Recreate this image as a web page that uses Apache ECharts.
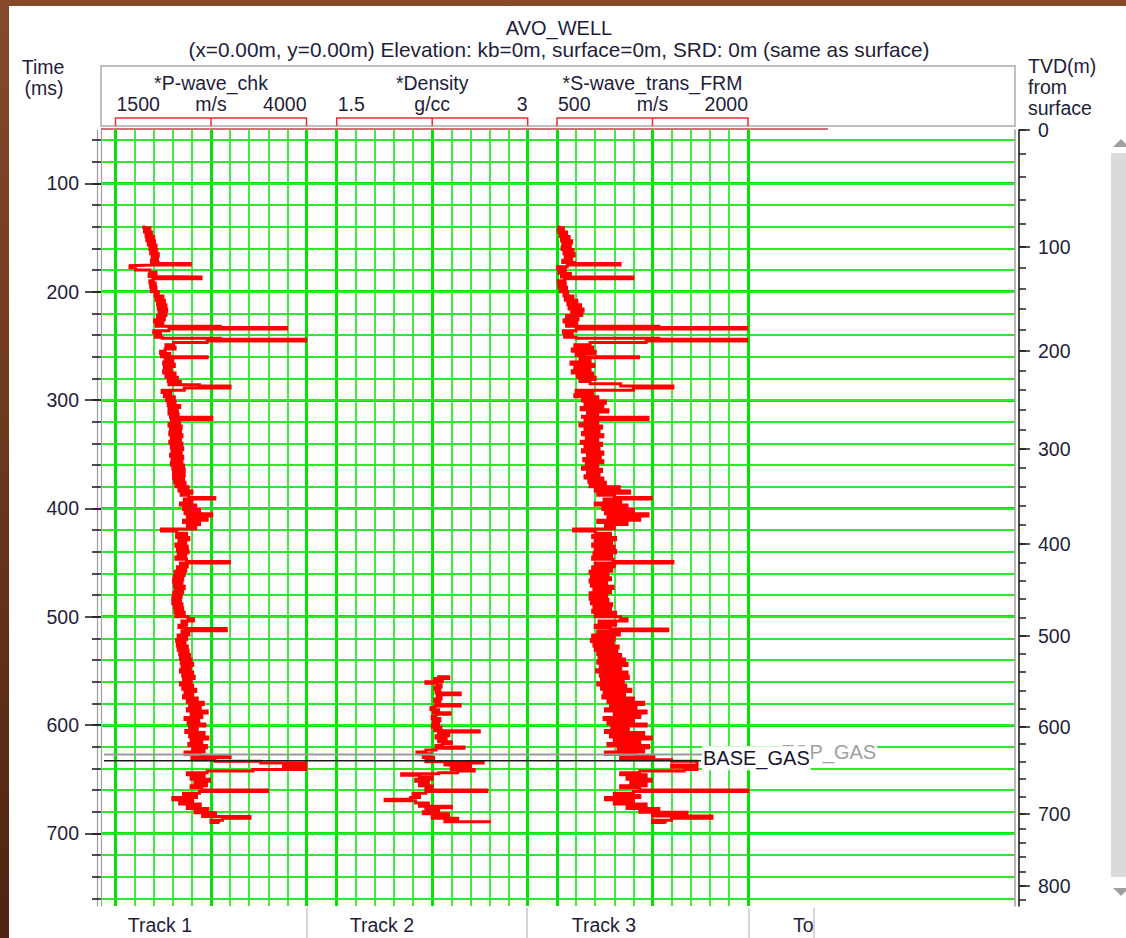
<!DOCTYPE html>
<html><head><meta charset="utf-8">
<script src="https://cdn.jsdelivr.net/npm/echarts@6/dist/echarts.min.js"></script>
<style>html,body{margin:0;padding:0;background:#fff;}#c{width:1126px;height:938px;}</style>
</head><body><div id="c"></div>
<script>
// ---------------- data ----------------
const timeMajorTicks = [100,200,300,400,500,600,700];
const timeMinorTicks = [60,80,100,120,140,160,180,200,220,240,260,280,300,320,340,360,380,400,420,440,460,480,500,520,540,560,580,600,620,640,660,680,700,720,740,760];
const tvdDepths = [0,100,200,300,400,500,600,700,800,820];
const tvdTimes  = [50.8,158.5,254.5,345.3,433.0,517.6,601.6,682.2,748.4,761.6];
const trackNames = ['Track 1','Track 2','Track 3'];
const curveNames = ['*P-wave_chk','*Density','*S-wave_trans_FRM'];
const curveUnits = ['m/s','g/cc','m/s'];
const scaleMin = [1500,1.5,500];
const scaleMax = [4000,3,2000];
const scaleMinLabels = ['1500','1.5','500'];
const scaleMaxLabels = ['4000','3','2000'];
const topNames = ['TOP_GAS','BASE_GAS'];
const topTimes = [627.3,633.0];

// [time ms, value]
const pWave = [[139,1870],[141,1950],[143,1880],[145,1970],[147,1900],[149,2000],[151,1910],[153,2010],[155,1930],[157,2030],[159,1950],[161,2040],[163,1960],[165,2060],[167,1980],[169,2050],[171,1970],[173,2060],[174,2480],[175.5,2000],[176,1690],[178,1760],[180,1950],[182,2030],[184,1940],[186,2040],[186.5,2620],[188,1990],[190,1950],[192,2020],[194,1960],[196,2030],[198,1970],[200,2060],[202,2020],[204,2120],[206,2030],[208,2140],[210,2050],[212,2160],[214,2060],[216,2170],[218,2070],[220,2160],[222,2050],[224,2140],[226,2010],[228,2120],[230,2030],[232,2870],[233,3740],[234.5,2200],[236,2000],[238,2090],[240,2020],[242,2110],[243,2870],[244,3990],[245.5,2700],[247,2260],[249,2160],[251,2280],[253,2150],[255,2090],[257,2210],[259,2100],[260,2700],[261,2150],[263,2250],[265,2130],[267,2270],[269,2140],[271,2230],[273,2130],[275,2280],[277,2160],[279,2310],[281,2190],[283,2350],[285,2200],[286,2600],[287,3000],[289,2400],[291,2110],[293,2220],[295,2140],[297,2270],[299,2170],[301,2280],[303,2190],[305,2340],[307,2200],[309,2310],[311,2200],[313,2320],[315,2220],[316,2760],[318,2230],[320,2340],[322,2200],[324,2360],[326,2220],[328,2350],[330,2210],[332,2370],[334,2230],[336,2350],[338,2210],[340,2370],[342,2230],[344,2380],[346,2240],[348,2360],[350,2220],[352,2380],[354,2240],[356,2370],[358,2230],[360,2390],[362,2250],[364,2400],[366,2260],[368,2400],[370,2260],[372,2390],[374,2270],[376,2410],[378,2290],[380,2450],[382,2330],[384,2500],[386,2360],[388,2460],[390,2800],[391.5,2400],[393,2500],[395,2350],[397,2550],[399,2390],[401,2600],[403,2410],[405,2760],[407,2440],[409,2700],[411,2390],[413,2600],[415,2440],[417,2550],[419,2100],[421,2300],[423,2430],[425,2300],[427,2460],[429,2330],[431,2420],[433,2290],[435,2440],[437,2310],[439,2450],[441,2320],[443,2420],[445,2290],[447,2430],[449,2990],[450.5,2350],[452,2440],[454,2310],[456,2420],[458,2280],[460,2400],[462,2270],[464,2380],[466,2260],[468,2370],[470,2270],[472,2400],[474,2280],[476,2380],[478,2260],[480,2360],[482,2250],[484,2350],[486,2250],[488,2370],[490,2270],[492,2380],[494,2280],[496,2400],[498,2290],[500,2450],[502,2520],[504,2370],[506,2430],[508,2330],[510,2410],[511,2950],[513,2370],[515,2460],[517,2320],[519,2430],[521,2300],[523,2410],[525,2310],[527,2440],[529,2320],[531,2450],[533,2340],[535,2470],[537,2350],[539,2490],[541,2360],[543,2510],[545,2370],[547,2480],[549,2350],[551,2510],[553,2380],[555,2530],[557,2390],[559,2490],[561,2350],[563,2510],[565,2380],[567,2550],[569,2410],[571,2510],[573,2390],[575,2570],[577,2440],[579,2650],[581,2470],[583,2610],[585,2440],[587,2700],[589,2490],[591,2630],[593,2410],[595,2590],[597,2450],[599,2670],[601,2470],[603,2570],[605,2420],[607,2660],[609,2470],[611,2710],[613,2490],[615,2630],[617,2460],[619,2690],[621,2510],[623,2660],[625,2410],[627,2610],[629,3000],[630,2500],[632,2800],[633.5,3400],[635,3990],[637,3700],[639,3990],[641,3300],[642.5,2700],[644,2440],[646,2660],[648,2490],[650,2730],[652,2540],[654,2690],[656,2490],[658,2630],[660,3490],[661.5,2600],[663,2390],[665,2560],[667,2250],[669,2510],[671,2340],[673,2610],[675,2440],[677,2710],[679,2540],[681,2810],[683,2640],[684.5,3260],[686,2900],[688,2750],[690,2850],[691,2850]];

const density = [[554,2.30],[555.5,2.38],[557,2.27],[559,2.33],[560,2.20],[561.5,2.29],[563,2.32],[565,2.27],[567,2.31],[569,2.28],[570.5,2.47],[572,2.29],[574,2.32],[576,2.27],[578,2.31],[580,2.28],[581,2.47],[582.5,2.27],[584,2.24],[586,2.30],[588,2.26],[588.7,2.39],[590,2.28],[592,2.25],[594,2.31],[596,2.26],[598,2.30],[600,2.25],[602,2.32],[604,2.27],[605.3,2.62],[606.5,2.30],[608,2.38],[610,2.28],[612,2.36],[614,2.30],[615.5,2.40],[617,2.33],[619,2.28],[620.4,2.50],[621.5,2.28],[623,2.20],[625,2.13],[626.5,2.24],[628,2.18],[630,2.26],[632,2.20],[633.9,2.65],[635,2.35],[637,2.55],[639,2.40],[641,2.58],[642.5,2.45],[644,2.30],[645,2.01],[646.5,2.15],[648,2.25],[650,2.12],[652,2.22],[654,2.15],[656,2.25],[658,2.20],[660,2.68],[661.5,2.20],[663,2.10],[665,2.15],[667,2.08],[668.6,1.88],[670,2.12],[672,2.22],[674,2.15],[675,2.40],[676.5,2.20],[678,2.30],[680,2.18],[682,2.38],[684,2.25],[686,2.45],[688,2.35],[689.3,2.70],[690.7,2.70]];

const sWave = [[139,515],[141,550],[143,510],[145,575],[147,525],[149,595],[151,535],[153,615],[155,545],[157,605],[159,540],[161,625],[163,555],[165,635],[167,565],[169,615],[171,545],[173,640],[174,995],[175.5,580],[177,505],[179,565],[181,515],[183,605],[185,535],[186.5,1097],[188,560],[190,510],[192,565],[194,515],[196,575],[198,525],[200,585],[202,555],[204,625],[206,565],[208,655],[210,585],[212,685],[214,595],[216,705],[218,615],[220,695],[222,575],[224,665],[226,555],[228,655],[230,575],[232,1300],[233,1990],[234.5,650],[236,550],[238,620],[240,560],[242,650],[243,1300],[244,1990],[245.5,1200],[247,760],[249,640],[251,780],[253,620],[255,800],[257,650],[259,720],[260,1140],[261,680],[263,760],[265,610],[267,790],[269,640],[271,760],[273,620],[275,780],[277,660],[279,800],[281,680],[283,760],[285,1000],[287,1410],[289,1100],[291,650],[293,780],[295,640],[297,820],[299,700],[301,880],[303,720],[305,860],[307,690],[309,900],[311,740],[313,820],[315,700],[316,1215],[318,720],[320,820],[322,680],[324,850],[326,720],[328,830],[330,700],[332,860],[334,730],[336,820],[338,690],[340,850],[342,720],[344,830],[346,700],[348,860],[350,740],[352,840],[354,710],[356,860],[358,730],[360,820],[362,700],[364,850],[366,740],[368,830],[370,720],[372,860],[374,750],[376,880],[378,760],[380,990],[382,800],[384,1070],[386,820],[388,950],[390,1240],[391.5,870],[393,1000],[395,800],[397,1050],[399,860],[401,1100],[403,880],[405,1215],[407,900],[409,1150],[411,820],[413,1050],[415,880],[417,950],[419,630],[421,800],[423,920],[425,780],[427,960],[429,800],[431,930],[433,780],[435,950],[437,800],[439,960],[441,790],[443,930],[445,780],[447,940],[449,1410],[450.5,800],[452,950],[454,780],[456,930],[458,760],[460,900],[462,770],[464,920],[466,760],[468,890],[470,770],[472,940],[474,790],[476,920],[478,760],[480,890],[482,760],[484,900],[486,770],[488,930],[490,790],[492,920],[494,780],[496,960],[498,800],[500,1000],[502,1050],[504,830],[506,960],[508,800],[510,920],[511.5,1370],[513,820],[515,990],[517,780],[519,950],[521,770],[523,940],[525,790],[527,980],[529,800],[531,970],[533,820],[535,1000],[537,830],[539,1030],[541,820],[543,1050],[545,840],[547,1000],[549,810],[551,1050],[553,840],[555,1060],[557,850],[559,1020],[561,820],[563,1040],[565,850],[567,1080],[569,870],[571,1030],[573,860],[575,1100],[577,900],[579,1180],[581,920],[583,1120],[585,880],[587,1200],[589,950],[591,1150],[593,870],[595,1100],[597,900],[599,1200],[601,930],[603,1060],[605,880],[607,1180],[609,920],[611,1240],[613,950],[615,1150],[617,900],[619,1220],[621,980],[623,1180],[625,880],[627,1120],[629,1260],[630,1000],[632,1400],[633.5,1600],[635,1600],[637,1400],[639,1600],[641,1500],[642.5,1150],[644,1000],[646,1200],[648,1050],[650,1240],[652,1080],[654,1200],[656,1000],[658,1150],[660,2000],[661.5,1100],[663,950],[665,1150],[667,880],[669,1100],[671,950],[673,1200],[675,1050],[677,1300],[679,1150],[680.5,1520],[682,1250],[684,1717],[686,1400],[688,1250],[690,1350],[691,1350]];

// ---------------- layout / style ----------------
const FONT = '"Liberation Sans", Arial, sans-serif';
const FS = 19.5;
const TXT = '#1e1e3a';
const T_MIN = 50.8, T_MAX = 767.1;
const GRID_TOP = 130, GRID_H = 776;
const MAIN_LEFT = 101, MAIN_W = 914;
const trackLeft = [115.5, 336.7, 557];
const trackW = 191;
const GREEN_MAJ = '#00e600', GREEN_MIN = '#2ee82e';

function interp(xs, ys, x) {
  for (let i = 0; i < xs.length - 1; i++) {
    if (x >= xs[i] && x <= xs[i + 1]) return ys[i] + (ys[i + 1] - ys[i]) * (x - xs[i]) / (xs[i + 1] - xs[i]);
  }
  return ys[ys.length - 1];
}
const tvdMinorDepths = []; for (let d = 0; d <= 820; d += 20) tvdMinorDepths.push(d);
const tvdMinorTimes = tvdMinorDepths.map(d => interp(tvdDepths, tvdTimes, d));
const tvdMajorDepths = tvdDepths.filter(d => d % 100 === 0);
const tvdMajorTimes = tvdMajorDepths.map(d => interp(tvdDepths, tvdTimes, d));

function stepLine(arr) {
  const out = [];
  for (let i = 0; i < arr.length; i++) {
    const t = arr[i][0], v = arr[i][1];
    const tn = i + 1 < arr.length ? arr[i + 1][0] : t;
    out.push([v, t]); out.push([v, tn]);
  }
  return out;
}

const grids = [{left: MAIN_LEFT, top: GRID_TOP, width: MAIN_W, height: GRID_H}];
trackLeft.forEach(l => grids.push({left: l, top: GRID_TOP, width: trackW, height: GRID_H}));

const xAxes = [{gridIndex: 0, type: 'value', min: 0, max: 1, show: false}];
const yAxes = [];
const hidden = {axisLine: {show: false, onZero: false}, axisTick: {show: false}, axisLabel: {show: false}};
yAxes.push({gridIndex: 0, type: 'value', position: 'left', min: T_MIN, max: T_MAX, inverse: true,
  axisLine: {show: true, onZero: false, lineStyle: {color: '#a0a0a0', width: 1.2}},
  axisTick: {show: true, customValues: timeMajorTicks, length: 16, lineStyle: {color: '#202020', width: 1.6}},
  axisLabel: {show: true, customValues: timeMajorTicks, margin: 22, color: TXT, fontSize: FS, fontFamily: FONT, lineHeight: 16},
  splitLine: {show: true, lineStyle: {color: GREEN_MAJ, width: 3}}});
yAxes.push({gridIndex: 0, type: 'value', position: 'left', min: T_MIN, max: T_MAX, inverse: true,
  axisLine: {show: false, onZero: false},
  axisTick: {show: true, customValues: timeMinorTicks, length: 9, lineStyle: {color: '#202020', width: 1.6}},
  axisLabel: {show: false},
  splitLine: {show: true, lineStyle: {color: GREEN_MIN, width: 1.8}}});
yAxes.push({gridIndex: 0, type: 'value', position: 'left', offset: 4, min: T_MIN, max: T_MAX, inverse: true,
  axisLine: {show: true, onZero: false, lineStyle: {color: '#a0a0a0', width: 1.2}},
  axisTick: {show: false}, axisLabel: {show: false}, splitLine: {show: false}});
yAxes.push({gridIndex: 0, type: 'value', position: 'right', offset: 0, min: T_MIN, max: T_MAX, inverse: true,
  axisLine: {show: true, onZero: false, lineStyle: {color: '#a0a0a0', width: 1.5}},
  axisTick: {show: false}, axisLabel: {show: false}, splitLine: {show: false}});
yAxes.push({gridIndex: 0, type: 'value', position: 'right', offset: 4, min: T_MIN, max: T_MAX, inverse: true,
  axisLine: {show: true, onZero: false, lineStyle: {color: '#202020', width: 1.6}},
  axisTick: {show: true, customValues: tvdMinorTimes, length: 7, lineStyle: {color: '#202020', width: 1.5}},
  axisLabel: {show: false}, splitLine: {show: false}});
yAxes.push({gridIndex: 0, type: 'value', position: 'right', offset: 4, min: T_MIN, max: T_MAX, inverse: true,
  axisLine: {show: false, onZero: false},
  axisTick: {show: true, customValues: tvdMajorTimes, length: 11, lineStyle: {color: '#202020', width: 1.5}},
  axisLabel: {show: true, customValues: tvdMajorTimes, margin: 19, color: TXT, fontSize: FS, fontFamily: FONT, lineHeight: 16,
    formatter: v => { let b = 0, bd = 1e9; tvdMajorTimes.forEach((t, i) => { const d = Math.abs(t - v); if (d < bd) { bd = d; b = i; } }); return String(tvdMajorDepths[b]); }},
  splitLine: {show: false}});

const curves = [pWave, density, sWave];
const series = [];
trackLeft.forEach((l, i) => {
  const mn = scaleMin[i], mx = scaleMax[i];
  const minorVals = []; for (let k = 0; k <= 10; k++) minorVals.push(mn + (mx - mn) * k / 10);
  const majorVals = [mn, (mn + mx) / 2, mx];
  xAxes.push({gridIndex: i + 1, type: 'value', min: mn, max: mx, axisLine: {show: false, onZero: false},
    axisTick: {show: false, customValues: minorVals}, axisLabel: {show: false},
    splitLine: {show: true, lineStyle: {color: GREEN_MIN, width: 1.8}}});
  xAxes.push({gridIndex: i + 1, type: 'value', min: mn, max: mx, axisLine: {show: false, onZero: false},
    axisTick: {show: false, customValues: majorVals}, axisLabel: {show: false},
    splitLine: {show: true, lineStyle: {color: GREEN_MAJ, width: 3}}});
  yAxes.push(Object.assign({gridIndex: i + 1, type: 'value', min: T_MIN, max: T_MAX, inverse: true, splitLine: {show: false}}, hidden));
  series.push({type: 'line', name: curveNames[i], xAxisIndex: 2 + 2 * i, yAxisIndex: 6 + i,
    data: stepLine(curves[i]), symbol: 'none', showSymbol: false, animation: false, z: 3,
    lineStyle: {color: '#ff0000', width: 3, cap: 'butt', join: 'miter'}});
});

series.push({type: 'custom', xAxisIndex: 0, yAxisIndex: 0, z: 6, animation: false, clip: false,
  data: topTimes.map((t, i) => [i, t]),
  renderItem: function (params, api) {
    const i = api.value(0);
    const y = api.coord([0, api.value(1)])[1];
    const cs = params.coordSys;
    const isBase = topNames[i] === 'BASE_GAS';
    const lx = isBase ? cs.x + 600 : cs.x + 679;
    return {type: 'group', children: [
      {type: 'line', shape: {x1: cs.x + 3, y1: y, x2: lx, y2: y},
        style: {stroke: isBase ? '#1a1a1a' : '#9a9a9a', lineWidth: isBase ? 1.6 : 2}},
      {type: 'text', style: {text: topNames[i], x: lx + 1, y: y - 2.5, align: 'left', verticalAlign: 'middle',
        fill: isBase ? '#151530' : '#a0a0a0', font: '20px ' + FONT, backgroundColor: '#ffffff', padding: [2, 1, 2, 1]}}
    ]};
  }});

// ---------------- decorations ----------------
const g = [];
g.push({type: 'rect', z: -100, shape: {x: 0, y: 0, width: 1126, height: 938},
  style: {fill: new echarts.graphic.LinearGradient(0, 0, 0, 1, [{offset: 0, color: '#87492a'}, {offset: 1, color: '#4f2410'}])}});
g.push({type: 'rect', z: -99, shape: {x: 9, y: 6, width: 1117, height: 932}, style: {fill: '#ffffff'}});
const txt = (text, x, y, align, size) => g.push({type: 'text', z: 10,
  style: {text, x, y, align: align || 'center', verticalAlign: 'middle', fill: TXT, font: (size || FS) + 'px ' + FONT, lineHeight: 17}});
txt('AVO_WELL', 559, 28, 'center', 20);
txt('(x=0.00m, y=0.00m) Elevation: kb=0m, surface=0m, SRD: 0m (same as surface)', 559, 49, 'center', 20.8);
txt('Time', 43, 67); txt('(ms)', 44, 88);
txt('TVD(m)', 1028, 66, 'left'); txt('from', 1028, 87, 'left'); txt('surface', 1028, 108, 'left');
g.push({type: 'rect', z: 9, shape: {x: MAIN_LEFT, y: 66, width: MAIN_W, height: 60}, style: {fill: 'none', stroke: '#aaaaaa', lineWidth: 1.5}});
trackLeft.forEach((l, i) => {
  const r = l + trackW, c = l + trackW / 2;
  txt(curveNames[i], c, 83);
  txt(scaleMinLabels[i], l + 1, 104, 'left');
  txt(curveUnits[i], c, 104);
  txt(scaleMaxLabels[i], r, 104, 'right');
  g.push({type: 'polyline', z: 10, shape: {points: [[l, 126], [l, 118], [r, 118], [r, 126]]}, style: {stroke: '#e83030', lineWidth: 1.5, fill: 'none'}});
  g.push({type: 'line', z: 10, shape: {x1: c, y1: 118, x2: c, y2: 126}, style: {stroke: '#e83030', lineWidth: 1.5}});
});
g.push({type: 'line', z: 10, shape: {x1: MAIN_LEFT, y1: 129, x2: 828, y2: 129}, style: {stroke: '#b84848', lineWidth: 1.5}});
[[160, 307], [382, 527], [604, 749]].forEach((p, i) => {
  txt(trackNames[i], p[0], 925);
  g.push({type: 'line', z: 10, shape: {x1: p[1], y1: 908, x2: p[1], y2: 938}, style: {stroke: '#c8c8c8', lineWidth: 1.5}});
});
txt('To', 793, 925, 'left');
g.push({type: 'line', z: 10, shape: {x1: 814, y1: 908, x2: 814, y2: 938}, style: {stroke: '#c8c8c8', lineWidth: 1.5}});
g.push({type: 'rect', z: 10, shape: {x: 1111, y: 153, width: 15, height: 724}, style: {fill: '#dadada'}});
g.push({type: 'polygon', z: 10, shape: {points: [[1113, 147], [1121, 139], [1129, 147]]}, style: {fill: '#a0a0a0'}});
g.push({type: 'polygon', z: 10, shape: {points: [[1113, 888], [1121, 896], [1129, 888]]}, style: {fill: '#a0a0a0'}});

const chart = echarts.init(document.getElementById('c'), null, {renderer: 'svg', width: 1126, height: 938});
chart.setOption({
  animation: false,
  backgroundColor: '#ffffff',
  grid: grids,
  xAxis: xAxes,
  yAxis: yAxes,
  series: series,
  graphic: {elements: g}
});
</script></body></html>
